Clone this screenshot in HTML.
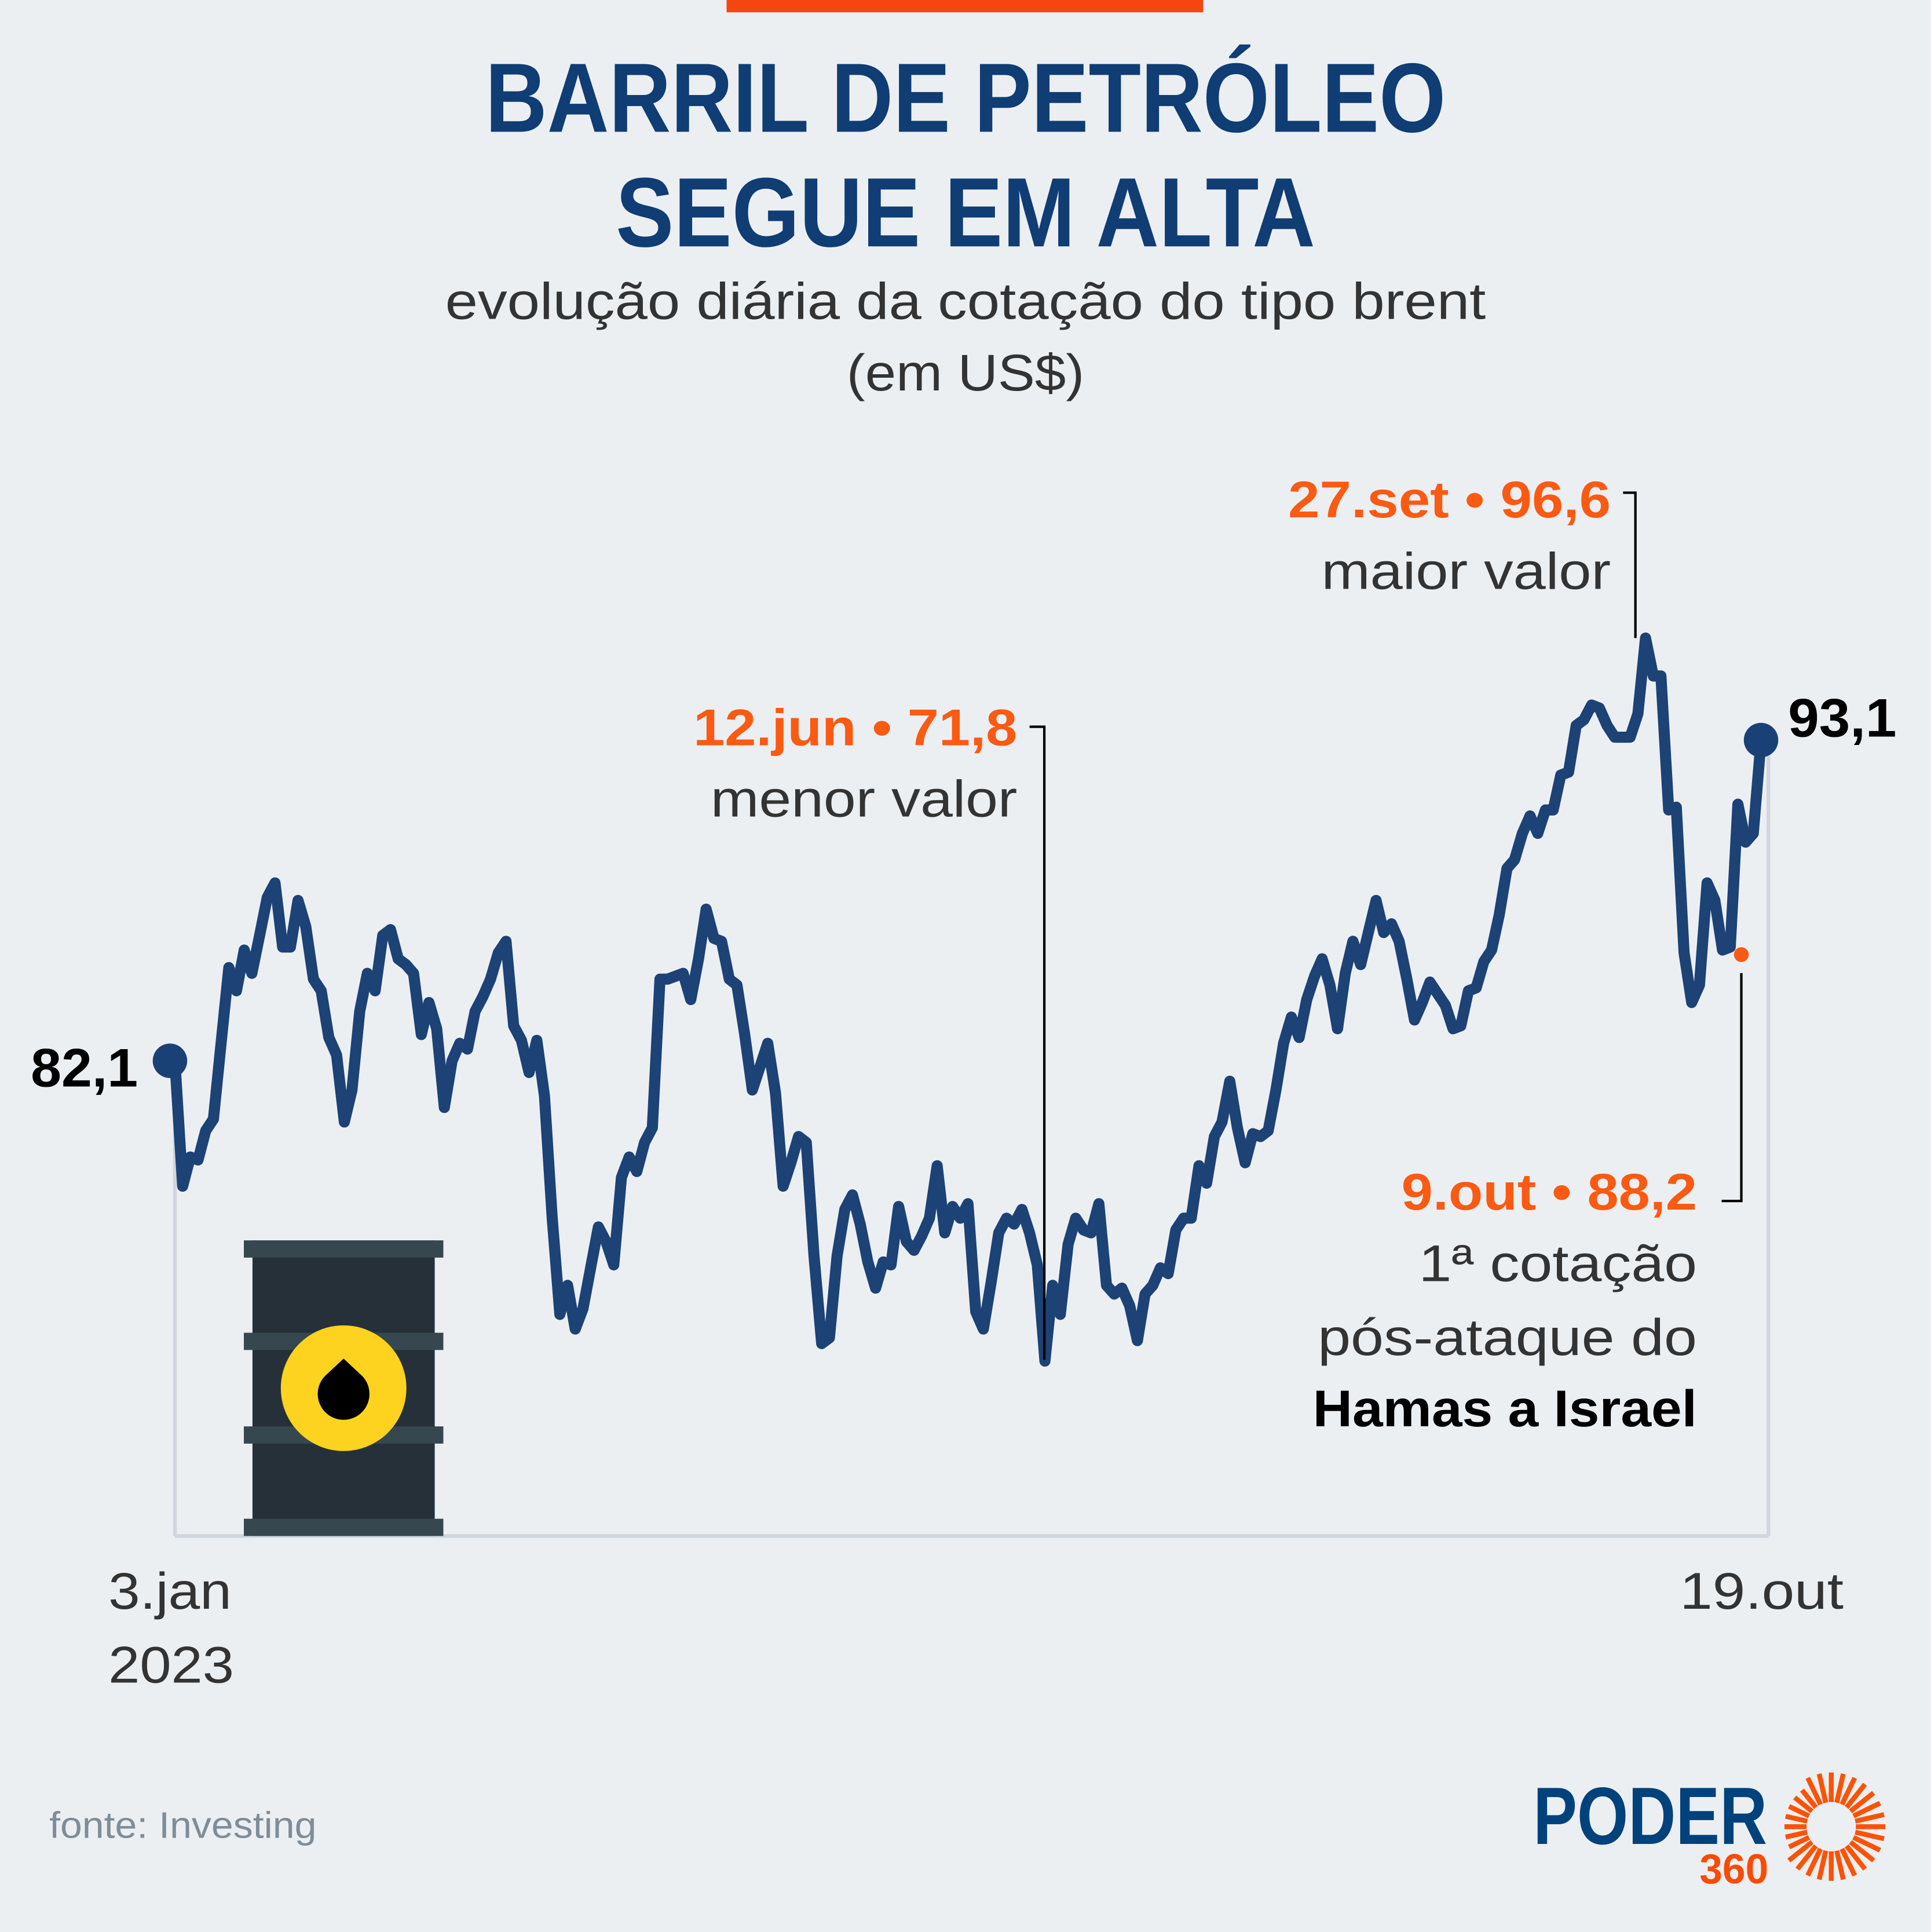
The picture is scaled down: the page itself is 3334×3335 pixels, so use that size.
<!DOCTYPE html>
<html><head><meta charset="utf-8"><style>
html,body{margin:0;padding:0;background:#eceff2;}
svg{display:block;}
text{font-family:"Liberation Sans",sans-serif;}
</style></head><body>
<svg id="chart" width="3334" height="3335" viewBox="0 0 1568 1568.5" xmlns="http://www.w3.org/2000/svg">
<rect x="0" y="0" width="1568" height="1569" fill="#eceff2"/>
<rect x="590" y="0" width="387" height="10" fill="#f5460f"/>
<text x="784" y="107" text-anchor="middle" font-size="80" font-weight="bold" fill="#0f3d74" textLength="780" lengthAdjust="spacingAndGlyphs">BARRIL DE PETRÓLEO</text>
<text x="784" y="200" text-anchor="middle" font-size="80" font-weight="bold" fill="#0f3d74" textLength="568" lengthAdjust="spacingAndGlyphs">SEGUE EM ALTA</text>
<text x="784" y="259" text-anchor="middle" font-size="42" fill="#333" textLength="845" lengthAdjust="spacingAndGlyphs">evolução diária da cotação do tipo brent</text>
<text x="784" y="317" text-anchor="middle" font-size="42" fill="#333" textLength="193" lengthAdjust="spacingAndGlyphs">(em US$)</text>

<g stroke="#d0d6dc" stroke-width="3" fill="none">
<line x1="142" y1="860" x2="142" y2="1247"/>
<line x1="142" y1="1247" x2="1436" y2="1247"/>
<line x1="1436" y1="600" x2="1436" y2="1247"/>
</g>

<g>
<rect x="205" y="1007" width="148" height="240" fill="#263038"/>
<rect x="198" y="1007" width="162" height="14" fill="#37474f"/>
<rect x="198" y="1082" width="162" height="14" fill="#37474f"/>
<rect x="198" y="1158" width="162" height="14" fill="#37474f"/>
<rect x="198" y="1233" width="162" height="14" fill="#37474f"/>
<circle cx="279" cy="1127" r="51" fill="#fdd31f"/>
<path d="M279 1103 L294 1117 A21 21 0 1 1 264 1117 Z" fill="#000"/>
</g>

<g id="plot"></g>

<g>
<text x="826" y="605" text-anchor="end" font-size="42" font-weight="bold" fill="#fa5a12" textLength="263" lengthAdjust="spacingAndGlyphs">12.jun • 71,8</text>
<text x="826" y="663" text-anchor="end" font-size="42" fill="#333" textLength="249" lengthAdjust="spacingAndGlyphs">menor valor</text>
<polyline points="836,590 848,590 848,1104" fill="none" stroke="#000" stroke-width="2"/>
</g>
<g>
<text x="1308" y="420" text-anchor="end" font-size="42" font-weight="bold" fill="#fa5a12" textLength="262" lengthAdjust="spacingAndGlyphs">27.set • 96,6</text>
<text x="1308" y="478" text-anchor="end" font-size="42" fill="#333" textLength="235" lengthAdjust="spacingAndGlyphs">maior valor</text>
<polyline points="1318,400 1328,400 1328,518" fill="none" stroke="#000" stroke-width="2"/>
</g>
<g>
<text x="1378" y="982" text-anchor="end" font-size="42" font-weight="bold" fill="#fa5a12" textLength="240" lengthAdjust="spacingAndGlyphs">9.out • 88,2</text>
<text x="1378" y="1040" text-anchor="end" font-size="42" fill="#333" textLength="226" lengthAdjust="spacingAndGlyphs">1ª cotação</text>
<text x="1378" y="1100" text-anchor="end" font-size="42" fill="#333" textLength="308" lengthAdjust="spacingAndGlyphs">pós-ataque do</text>
<text x="1378" y="1158" text-anchor="end" font-size="42" font-weight="bold" fill="#000" textLength="312" lengthAdjust="spacingAndGlyphs">Hamas a Israel</text>
<polyline points="1398,975 1414,975 1414,790" fill="none" stroke="#000" stroke-width="2"/>
<circle cx="1414" cy="775" r="6" fill="#fa5a12"/>
</g>

<text x="112" y="882" text-anchor="end" font-size="44" font-weight="bold" fill="#000" textLength="87" lengthAdjust="spacingAndGlyphs">82,1</text>
<text x="1452" y="598" font-size="44" font-weight="bold" fill="#000" textLength="88" lengthAdjust="spacingAndGlyphs">93,1</text>

<text x="88" y="1306" font-size="42" fill="#333" textLength="100" lengthAdjust="spacingAndGlyphs">3.jan</text>
<text x="88" y="1366" font-size="42" fill="#333" textLength="102" lengthAdjust="spacingAndGlyphs">2023</text>
<text x="1364" y="1306" font-size="42" fill="#333" textLength="133" lengthAdjust="spacingAndGlyphs">19.out</text>

<text x="40" y="1492" font-size="30" fill="#7d8d99" textLength="217" lengthAdjust="spacingAndGlyphs">fonte: Investing</text>

<g>
<text x="1245" y="1497" font-size="66" font-weight="bold" fill="#00427b" textLength="190" lengthAdjust="spacingAndGlyphs">PODER</text>
<text x="1380" y="1529" font-size="34" font-weight="bold" fill="#fa4b06" textLength="56" lengthAdjust="spacingAndGlyphs">360</text>
<g id="sun" stroke="#fa5306" stroke-width="4"></g>
</g>
</svg>
<script>
const values = [82.1,77.8,78.8,78.7,79.7,80.1,82.7,85.3,84.5,85.9,85.1,86.4,87.7,88.2,86.0,86.0,87.6,86.7,84.9,84.5,82.9,82.3,80.0,81.1,83.8,85.1,84.5,86.4,86.6,85.6,85.4,85.1,83.0,84.1,83.2,80.5,82.1,82.7,82.5,83.8,84.3,84.9,85.8,86.2,83.3,82.8,81.7,82.8,80.9,76.7,73.4,74.4,72.9,73.6,75.0,76.4,75.9,75.1,78.1,78.8,78.3,79.3,79.8,84.9,84.9,85.0,85.1,84.2,85.6,87.3,86.3,86.2,84.9,84.7,83.0,81.1,81.9,82.7,81.0,77.8,78.6,79.5,79.3,75.4,72.4,72.6,75.4,77.0,77.5,76.5,75.2,74.3,75.2,75.1,77.1,75.9,75.6,76.1,76.7,78.5,76.2,77.1,76.7,77.2,73.5,72.9,74.5,76.2,76.7,76.5,77.0,76.2,75.1,71.8,74.4,73.4,75.8,76.7,76.3,76.2,77.2,74.4,74.1,74.3,73.7,72.5,74.1,74.4,75.0,74.8,76.3,76.7,76.7,78.5,77.9,79.5,80.0,81.4,79.8,78.6,79.6,79.5,79.7,81.1,82.7,83.6,82.9,84.2,85.0,85.6,84.7,83.2,85.1,86.2,85.4,86.5,87.6,86.5,86.8,86.2,84.9,83.5,84.1,84.8,84.4,84.0,83.2,83.3,84.5,84.6,85.5,85.9,87.1,88.7,89.0,89.9,90.5,89.9,90.7,90.7,91.9,92.0,93.6,93.8,94.3,94.2,93.6,93.2,93.2,93.2,94.0,96.6,95.3,95.3,90.7,90.8,85.8,84.1,84.7,88.2,87.6,85.9,86.0,90.9,89.6,89.9,93.1];
const xStart = 142, xEnd = 1430;
const yRef = 71.8, yRefPx = 1105, pxPerUnit = 23.67;
function xScale(i){ return xStart + i*(xEnd-xStart)/(values.length-1); }
function yScale(v){ return yRefPx - (v - yRef)*pxPerUnit; }
const NS = "http://www.w3.org/2000/svg";
const plot = document.getElementById('plot');
const line = document.createElementNS(NS,'polyline');


line.setAttribute('points', values.map((v,i)=>xScale(i).toFixed(1)+','+yScale(v).toFixed(1)).join(' '));
line.setAttribute('fill','none');
line.setAttribute('stroke','#1c4276');
line.setAttribute('stroke-width','9');
line.setAttribute('stroke-linejoin','round');
plot.appendChild(line);
const m1 = document.createElementNS(NS,'circle');


m1.setAttribute('cx', xScale(0)-4); m1.setAttribute('cy', yScale(values[0])); m1.setAttribute('r', 14); m1.setAttribute('fill','#1a4175');
plot.appendChild(m1);
const m2 = document.createElementNS(NS,'circle');


m2.setAttribute('cx', xScale(values.length-1)); m2.setAttribute('cy', yScale(values[values.length-1])); m2.setAttribute('r', 14); m2.setAttribute('fill','#1a4175');
plot.appendChild(m2);
const sun = document.getElementById('sun');
const cx=1487, cy=1483;
for(let k=0;k<28;k++){
  const a = -Math.PI/2 + k*2*Math.PI/28;
  const r1 = 20, r2 = (k>=19 && k<=25)? 38 : 44;
  const ln = document.createElementNS(NS,'line');
  
  
  ln.setAttribute('x1', cx+r1*Math.cos(a)); ln.setAttribute('y1', cy+r1*Math.sin(a));
  ln.setAttribute('x2', cx+r2*Math.cos(a)); ln.setAttribute('y2', cy+r2*Math.sin(a));
  sun.appendChild(ln);
}
</script>
</body></html>
